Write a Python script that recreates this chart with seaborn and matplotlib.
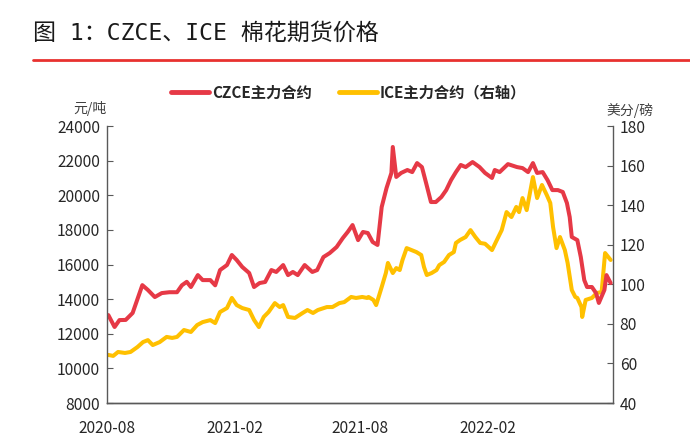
import numpy as np
import pandas as pd
import matplotlib
matplotlib.use("Agg")
import matplotlib.pyplot as plt
import matplotlib.dates as mdates
from matplotlib.lines import Line2D
import seaborn as sns

# CZCE main contract, yuan/ton (left axis)
czce_dates = ['2020-08-03', '2020-08-12', '2020-08-19', '2020-08-28', '2020-09-07', '2020-09-21',
              '2020-09-29', '2020-10-09', '2020-10-19', '2020-10-30', '2020-11-10', '2020-11-17',
              '2020-11-24', '2020-11-30', '2020-12-10', '2020-12-17', '2020-12-28', '2021-01-04',
              '2021-01-11', '2021-01-21', '2021-01-28', '2021-02-04', '2021-02-12', '2021-02-22',
              '2021-03-01', '2021-03-09', '2021-03-17', '2021-03-26', '2021-04-02', '2021-04-12',
              '2021-04-19', '2021-04-26', '2021-05-03', '2021-05-13', '2021-05-24', '2021-05-31',
              '2021-06-09', '2021-06-18', '2021-06-28', '2021-07-07', '2021-07-14', '2021-07-21',
              '2021-07-29', '2021-08-05', '2021-08-12', '2021-08-19', '2021-08-26', '2021-09-01',
              '2021-09-08', '2021-09-15', '2021-09-17', '2021-09-22', '2021-09-29', '2021-10-08',
              '2021-10-15', '2021-10-22', '2021-10-29', '2021-11-04', '2021-11-11', '2021-11-18',
              '2021-11-26', '2021-12-03', '2021-12-10', '2021-12-17', '2021-12-24', '2021-12-31',
              '2022-01-10', '2022-01-20', '2022-01-28', '2022-02-07', '2022-02-11', '2022-02-18',
              '2022-03-02', '2022-03-15', '2022-03-23', '2022-03-31', '2022-04-07', '2022-04-13',
              '2022-04-21', '2022-04-28', '2022-05-05', '2022-05-13', '2022-05-20', '2022-05-26',
              '2022-05-30', '2022-06-02', '2022-06-10', '2022-06-15', '2022-06-20', '2022-06-24',
              '2022-07-01', '2022-07-07', '2022-07-11', '2022-07-19', '2022-07-22', '2022-07-28']
czce_vals = [13080, 12390, 12790, 12800, 13200, 14810,
             14530, 14120, 14350, 14400, 14400, 14800,
             15000, 14700, 15390, 15100, 15100, 14800,
             15680, 15970, 16550, 16260, 15860, 15510,
             14700, 14930, 14990, 15680, 15570, 15970,
             15390, 15570, 15390, 15970, 15570, 15680,
             16430, 16660, 17010, 17530, 17880, 18280,
             17410, 17880, 17820, 17300, 17130, 19320,
             20420, 21290, 22790, 21060, 21290, 21460,
             21340, 21860, 21630, 20710, 19610, 19610,
             19900, 20300, 20880, 21340, 21750, 21630,
             21920, 21630, 21290, 21000, 21460, 21340,
             21800, 21630, 21570, 21340, 21860, 21290,
             21340, 20880, 20300, 20300, 20190, 19550,
             18740, 17590, 17410, 16430, 15100, 14700,
             14700, 14350, 13780, 14530, 15390, 14930]

# ICE main contract, cents/lb (right axis)
ice_dates = ['2020-08-03', '2020-08-10', '2020-08-17', '2020-08-27', '2020-09-04', '2020-09-14',
             '2020-09-22', '2020-09-29', '2020-10-06', '2020-10-16', '2020-10-26', '2020-11-03',
             '2020-11-10', '2020-11-20', '2020-11-30', '2020-12-09', '2020-12-17', '2020-12-28',
             '2021-01-04', '2021-01-11', '2021-01-21', '2021-01-28', '2021-02-04', '2021-02-12',
             '2021-02-22', '2021-03-01', '2021-03-08', '2021-03-15', '2021-03-22', '2021-03-31',
             '2021-04-07', '2021-04-12', '2021-04-19', '2021-04-29', '2021-05-10', '2021-05-17',
             '2021-05-25', '2021-06-01', '2021-06-14', '2021-06-22', '2021-07-02', '2021-07-09',
             '2021-07-19', '2021-07-26', '2021-08-04', '2021-08-11', '2021-08-13', '2021-08-20',
             '2021-08-24', '2021-09-01', '2021-09-07', '2021-09-10', '2021-09-17', '2021-09-22',
             '2021-09-27', '2021-10-01', '2021-10-07', '2021-10-14', '2021-10-21', '2021-10-28',
             '2021-11-01', '2021-11-05', '2021-11-12', '2021-11-19', '2021-11-23', '2021-11-30',
             '2021-12-07', '2021-12-14', '2021-12-17', '2021-12-23', '2021-12-31', '2022-01-07',
             '2022-01-14', '2022-01-21', '2022-01-28', '2022-02-07', '2022-02-14', '2022-02-21',
             '2022-02-28', '2022-03-07', '2022-03-14', '2022-03-18', '2022-03-23', '2022-03-29',
             '2022-04-07', '2022-04-13', '2022-04-20', '2022-04-27', '2022-05-02', '2022-05-06',
             '2022-05-11', '2022-05-16', '2022-05-23', '2022-05-27', '2022-06-02', '2022-06-07',
             '2022-06-10', '2022-06-16', '2022-06-17', '2022-06-22', '2022-07-01', '2022-07-08',
             '2022-07-15', '2022-07-20', '2022-07-28']
ice_vals = [64.3, 63.8, 65.8, 65.3, 65.8, 68.3,
            70.8, 71.8, 69.3, 70.8, 73.4, 72.9,
            73.4, 76.9, 75.9, 79.4, 80.9, 81.9,
            80.4, 86.0, 88.0, 93.1, 89.5, 88.0,
            87.0, 82.0, 78.4, 83.5, 86.0, 90.5,
            88.5, 89.5, 83.5, 83.0, 85.5, 87.0,
            85.5, 87.0, 88.5, 88.5, 90.5, 91.0,
            93.6, 93.1, 93.6, 93.1, 93.6, 92.1,
            89.5, 98.6, 105.7, 110.8, 105.7, 108.2,
            107.2, 112.3, 118.3, 117.3, 116.3, 114.8,
            108.7, 104.7, 105.7, 107.2, 109.7, 111.3,
            114.8, 116.3, 120.9, 122.4, 123.9, 127.4,
            123.9, 120.9, 120.5, 117.3, 122.4, 127.4,
            136.5, 134.0, 139.1, 136.5, 143.6, 137.5,
            154.2, 143.6, 150.2, 145.1, 141.1, 129.0,
            118.3, 123.9, 117.3, 110.8, 97.1, 93.6,
            93.1, 88.5, 83.5, 92.1, 93.1, 95.6,
            96.1, 115.8, 112.3]

czce = pd.DataFrame({'date': pd.to_datetime(czce_dates), 'price': czce_vals})
ice = pd.DataFrame({'date': pd.to_datetime(ice_dates), 'price': ice_vals})

red = '#e63946'
yellow = '#ffc000'
spine_col = '#595959'

sns.set_style("white")
plt.rcParams['font.family'] = ['Noto Sans CJK SC', 'DejaVu Sans']

fig = plt.figure(figsize=(6.9, 4.46), dpi=100)
ax = fig.add_axes([0.155, 0.0964, 0.733, 0.621])
ax2 = ax.twinx()

sns.lineplot(data=czce, x='date', y='price', ax=ax, color=red, linewidth=2.9)
sns.lineplot(data=ice, x='date', y='price', ax=ax2, color=yellow, linewidth=2.9)
ax.set_zorder(ax2.get_zorder() + 1)
ax.patch.set_visible(False)

ax.set_xlim(pd.Timestamp('2020-08-01'), pd.Timestamp('2022-07-31'))
ax.set_ylim(8000, 24000)
ax.set_yticks(np.arange(8000, 24001, 2000))
ax2.set_ylim(40, 180)
ax2.set_yticks(np.arange(40, 181, 20))
ax.xaxis.set_major_locator(mdates.MonthLocator(bymonth=[2, 8]))
ax.xaxis.set_major_formatter(mdates.DateFormatter('%Y-%m'))

for a in (ax, ax2):
    a.set_xlabel('')
    a.set_ylabel('')
    a.spines['top'].set_visible(False)
    for s in ('left', 'right', 'bottom'):
        a.spines[s].set_color(spine_col)
        a.spines[s].set_linewidth(1.0)
    a.tick_params(direction='in', length=4, color=spine_col, labelsize=11.2, labelcolor='#262626')
ax.spines['right'].set_visible(False)
ax2.spines['left'].set_visible(False)
ax.tick_params(axis='x', pad=12)
ax.tick_params(axis='y', left=True, pad=5)
ax2.tick_params(axis='y', right=True, pad=5)

fig.text(0.13, 0.757, '元/吨', fontsize=10, color='#404040', ha='center', va='center')
fig.text(0.913, 0.752, '美分/磅', fontsize=10, color='#404040', ha='center', va='center')

handles = [Line2D([0], [0], color=red, linewidth=3.5),
           Line2D([0], [0], color=yellow, linewidth=3.5)]
fig.legend(handles, ['CZCE主力合约', 'ICE主力合约（右轴）'], loc='center',
           bbox_to_anchor=(0.505, 0.792), ncol=2, frameon=False, handlelength=2.5,
           handletextpad=0.15, columnspacing=1.8, prop={'weight': 'bold', 'size': 11})

fig.text(0.048, 0.926, '图 1：CZCE、ICE 棉花期货价格', fontsize=16.6, color='#1a1a1a',
         ha='left', va='center', family=['DejaVu Sans Mono', 'Noto Sans CJK SC'])
fig.add_artist(Line2D([0.048, 1.0], [0.866, 0.866], transform=fig.transFigure,
                      color='#e8312f', linewidth=2))

fig.savefig('out.png', dpi=100)
